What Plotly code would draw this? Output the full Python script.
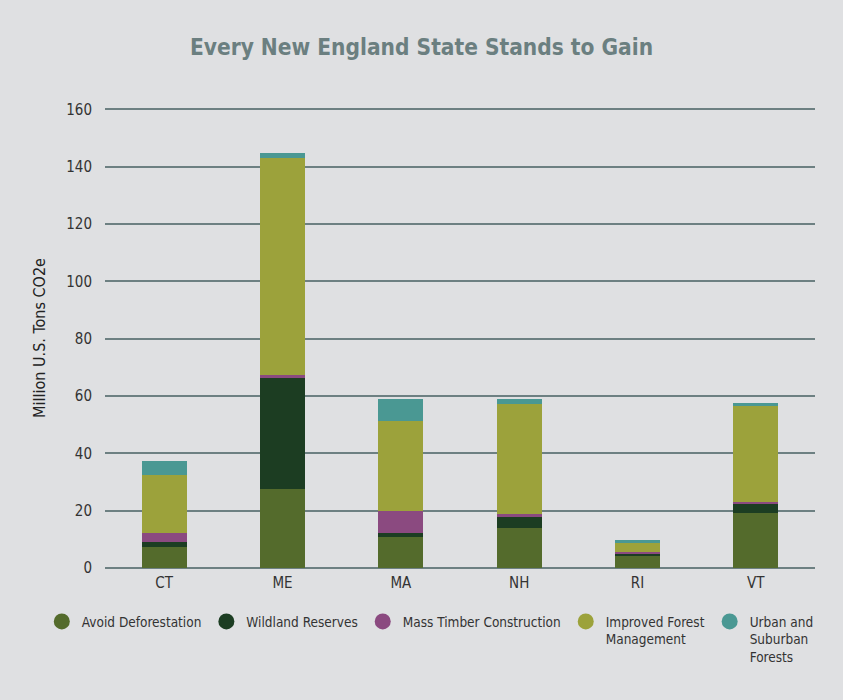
import plotly.graph_objects as go

states = ["CT", "ME", "MA", "NH", "RI", "VT"]
avoid_deforestation = [7.4, 27.4, 10.7, 14.0, 4.2, 19.1]
wildland_reserves = [1.5, 38.9, 1.5, 3.9, 0.7, 3.1]
mass_timber = [3.3, 0.9, 7.6, 1.1, 0.7, 0.9]
improved_forest = [20.1, 75.9, 31.5, 38.2, 3.1, 33.6]
urban_suburban = [5.0, 1.8, 7.6, 1.7, 1.1, 0.7]
y_ticks = [0, 20, 40, 60, 80, 100, 120, 140, 160]

series = [
    ("Avoid Deforestation", avoid_deforestation, "#546b2c"),
    ("Wildland Reserves", wildland_reserves, "#1c3d22"),
    ("Mass Timber Construction", mass_timber, "#8b4a80"),
    ("Improved Forest<br>Management", improved_forest, "#9ca23b"),
    ("Urban and<br>Suburban<br>Forests", urban_suburban, "#4a9893"),
]

FONT = "DejaVu Sans Condensed, sans-serif"

fig = go.Figure()
for name, vals, col in series:
    fig.add_trace(go.Bar(x=states, y=vals, name=name, marker=dict(color=col, line=dict(width=0)),
                         width=0.38, showlegend=False))
for name, vals, col in series:
    fig.add_trace(go.Scatter(x=[None], y=[None], mode="markers", name=name,
                             marker=dict(symbol="circle", size=18, color=col)))

fig.update_layout(
    barmode="stack",
    width=843, height=700,
    paper_bgcolor="#dfe0e2", plot_bgcolor="#dfe0e2",
    margin=dict(l=105, r=28, t=108, b=132),
    title=dict(text="<b>Every New England State Stands to Gain</b>", x=0.5, xanchor="center",
               y=0.932, yanchor="middle",
               font=dict(family=FONT, size=22.5, color="#6b7f80")),
    font=dict(family=FONT, size=14, color="#333333"),
    xaxis=dict(showgrid=False, showline=False, zeroline=False, ticks="", ticklabelstandoff=4,
               tickfont=dict(family=FONT, size=15, color="#333333")),
    yaxis=dict(range=[0, 160.5], tickvals=y_ticks, showgrid=True, gridcolor="#6d8082", gridwidth=2,
               zeroline=True, zerolinecolor="#6d8082", zerolinewidth=2,
               showline=False, ticks="", ticklabelstandoff=12,
               title=dict(text="Million U.S. Tons CO2e", standoff=16,
                          font=dict(family=FONT, size=16, color="#222222")),
               tickfont=dict(family=FONT, size=15, color="#333333")),
    legend=dict(orientation="h", x=-0.089, xanchor="left", y=-0.083, yanchor="top",
                valign="top", traceorder="normal",
                font=dict(family=FONT, size=13.5, color="#333333"),
                itemsizing="trace", bgcolor="rgba(0,0,0,0)"),
)
fig.write_html("out.html", config={"displayModeBar": False},
               post_script="document.body.style.margin='0';document.body.style.overflow='hidden';"
                           "document.body.style.background='#dfe0e2';")
